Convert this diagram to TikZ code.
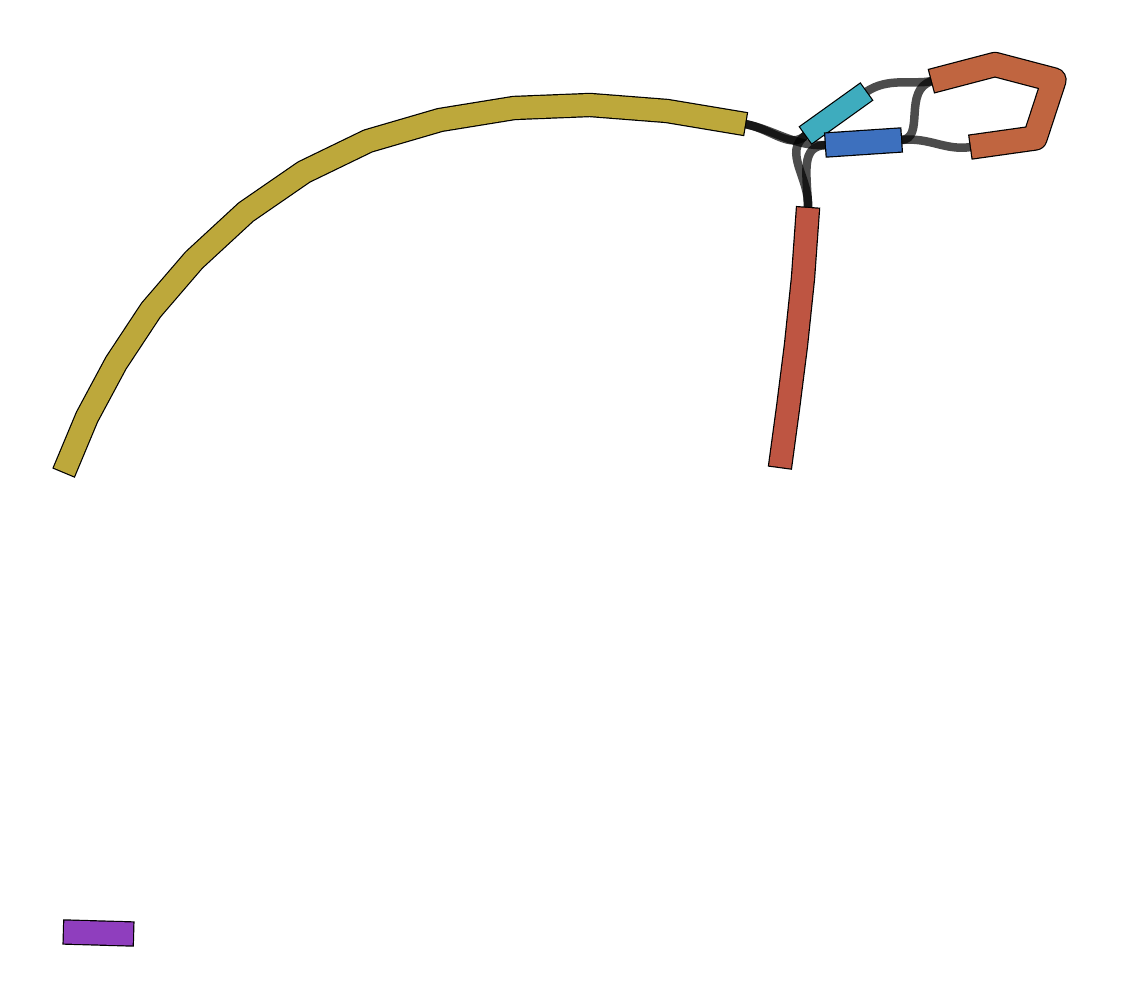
\documentclass[tikz,border=0pt]{standalone}
\usetikzlibrary{calc}
\definecolor{cyellow}{RGB}{189,168,59}
\definecolor{cred}{RGB}{190,85,66}
\definecolor{corange}{RGB}{192,101,64}
\definecolor{ccyan}{RGB}{62,172,190}
\definecolor{cblue}{RGB}{61,112,190}
\definecolor{cpurple}{RGB}{143,62,190}
\tikzset{
  link/.style={draw=black, line width=8.5pt, opacity=0.7, line cap=butt},
  outline/.style={draw=black, line width=#1+2.4pt, line cap=butt, line join=round, shorten <=-1.2pt, shorten >=-1.2pt},
  body/.style={line width=#1, line cap=butt, line join=round},
}
\begin{document}
\begin{tikzpicture}[x=1pt,y=-1pt]
\useasboundingbox (0,0) rectangle (1122,1000);
% end coordinates
\coordinate (yA) at (64,472);
\coordinate (yB) at (745,124);
\coordinate (rA) at (808,208);
\coordinate (rB) at (780,467);
\coordinate (cA) at (806,135);
\coordinate (cB) at (866,92);
\coordinate (bA) at (826,145);
\coordinate (bB) at (901,140);
\coordinate (oA) at (932,81);
\coordinate (oB) at (971,147);
\coordinate (pA) at (64,932);
\coordinate (pB) at (133,934);
% connectors
\draw[link] (yB) .. controls (772,129) and (790,150) .. (cA);
\draw[link] (yB) .. controls (775,130) and (795,147) .. (bA);
\draw[link] (cA) .. controls (782,152) and (810,178) .. (rA);
\draw[link] (bA) .. controls (800,146) and (807,172) .. (rA);
\draw[link] (cB) .. controls (888,77) and (912,85) .. (oA);
\draw[link] (bB) .. controls (926,139) and (902,90) .. (oA);
\draw[link] (bB) .. controls (930,137) and (945,151) .. (oB);
% segments
\foreach \w/\c/\p in {
  22/cyellow/{(yA) -- (87,417) -- (116,363) -- (151,310) -- (194,260) -- (246,212) -- (304,172) -- (368,141) -- (440,120) -- (514,108) -- (590,105) -- (667,111) -- (yB)},
  22/cred/{(rA) -- (803,278) -- (796,345) -- (788,408) -- (rB)},
  20/ccyan/{(cA) -- (cB)},
  23/cblue/{(bA) -- (bB)},
  23/corange/{(oA) -- (995,64.5) -- (1054,80) -- (1035,138) -- (oB)},
  23/cpurple/{(pA) -- (pB)}}
{
  \draw[outline=\w pt] \p;
  \draw[body=\w pt, draw=\c] \p;
}
\end{tikzpicture}
\end{document}
